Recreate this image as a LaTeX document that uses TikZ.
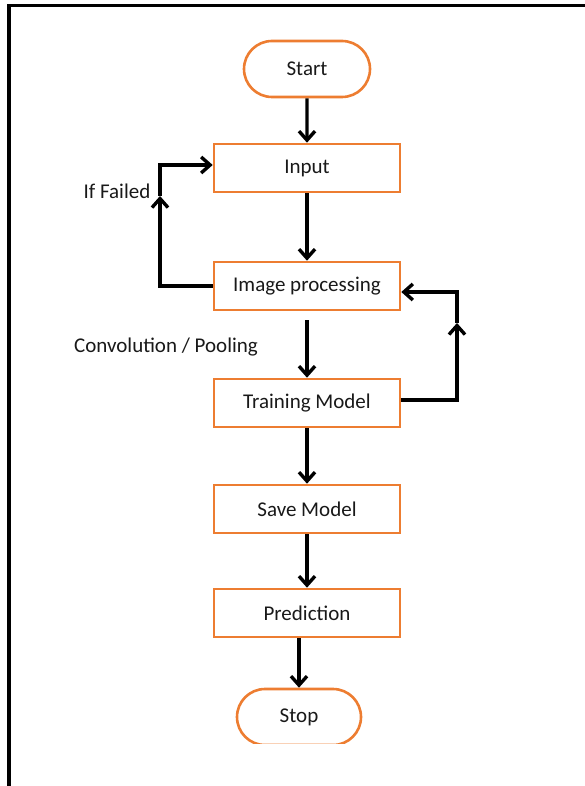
\documentclass[tikz,border=0pt]{standalone}
\usepackage{fontspec}
\setmainfont{Carlito}
\usepackage{xcolor}
\usepackage{tikz}
\usetikzlibrary{positioning,shapes,arrows.meta}

\definecolor{boxorange}{RGB}{237,125,49}

\begin{document}
\begin{tikzpicture}[x=1pt, y=-1pt, >={Straight Barb[length=9pt,width=16pt]},
            box/.style={draw=boxorange, line width=2.6pt, rectangle, minimum width=186pt, minimum height=48pt, inner sep=0pt, text=black!90, font=\fontsize{21}{25}\selectfont},
            terminal/.style={box, rounded rectangle, minimum width=126pt, minimum height=56pt},
            flow/.style={->, line width=3.4pt},
            note/.style={text=black!90, font=\fontsize{21}{25}\selectfont}]
            \useasboundingbox (0,0) rectangle (584,786);
            \draw[line width=3.2pt] (9,786) -- (9,5.5) -- (585,5.5);

            \node[terminal] (start) at (307,69) {Start};
            \node[box, below of=start, node distance=99pt] (input) {Input};
            \node[box, below of=input, node distance=118pt] (imgproc) {Image processing};
            \node[box, below of=imgproc, node distance=117pt] (train) {Training Model};
            \node[box, below of=train, node distance=106pt] (save) {Save Model};
            \node[box, below of=save, node distance=104pt] (pred) {Prediction};
            \begin{scope}
                \clip (0,0) rectangle (584,743);
                \node[terminal, minimum width=124pt, below of=pred, node distance=104pt, xshift=-8pt] (stop) {Stop};
            \end{scope}

            \node[note] (failed) at (117,191) {If Failed};
            \node[note] (conv) at (166,347) {Convolution / Pooling};
            \coordinate (failtip) at (160,196);
            \coordinate (retip) at (457,323);

            \draw[flow] (start) -- (input);
            \draw[flow] (input) -- (imgproc);
            \draw[flow, shorten <=9pt] (imgproc) -- (train);
            \draw[flow] (train) -- (save);
            \draw[flow] (save) -- (pred);
            \draw[flow] (pred.south -| stop.north) -- (stop.north);

            \draw[flow] (imgproc.west) -| (failtip);
            \draw[flow] (failtip) |- ([yshift=3pt]input.west);
            \draw[flow] ([yshift=3pt]train.east) -| (retip);
            \draw[flow] (retip) |- ([yshift=-6pt]imgproc.east);
        \end{tikzpicture}
\end{document}
